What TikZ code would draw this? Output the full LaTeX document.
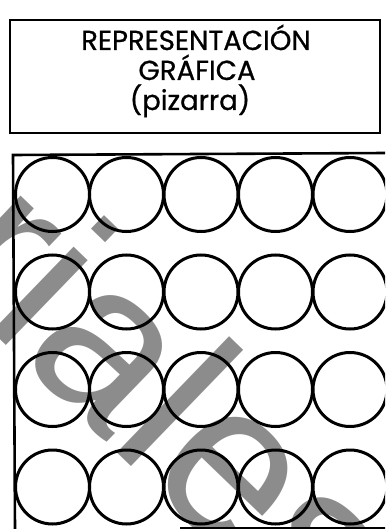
\documentclass[tikz,border=0pt]{standalone}
\usepackage{fontspec}
\newfontfamily\wmfont{Liberation Sans}
\newfontfamily\titlefont{Poppins}[FakeBold=0.8]
\begin{document}
\begin{tikzpicture}[x=1pt,y=-1pt,
  titletext/.style={font=\titlefont\fontsize{27.5}{30}\selectfont, anchor=base, inner sep=0pt},
  ring/.style={circle, draw=black, line width=3pt, minimum size=74pt, inner sep=0pt},
  frame/.style={draw=black, line width=2.2pt}]
\useasboundingbox (0,0) rectangle (385,529);
\clip (0,0) rectangle (385,529);
\fill[white] (0,0) rectangle (385,529);
% watermark
\node[anchor=base west, inner sep=0pt, rotate=-44, text=black!45,
      font=\wmfont\fontsize{223}{223}\selectfont] (wm) at (-428.5,-74.2) {materiales};
% title box
\draw[frame] (10,20) rectangle (380,133);
\node[titletext] (t1) at (196,50) {REPRESENTACIÓN};
\node[titletext] (t2) at (197,80) {GRÁFICA};
\node[titletext] (t3) at (190,110) {(pizarra)};
% board
\draw[frame, line width=2.6pt] (15,529) -- (13,155) -- (386,153);
\draw[frame, line width=2.6pt] (180,528) -- (386,528);
\foreach \r/\yy in {1/194.5,2/292,3/389.5,4/487}{
  \foreach \c/\xx in {1/52.5,2/126.5,3/201,4/275.5,5/350}{
    \node[ring] (c\r\c) at (\xx,\yy) {};
  }
}
\end{tikzpicture}
\end{document}
